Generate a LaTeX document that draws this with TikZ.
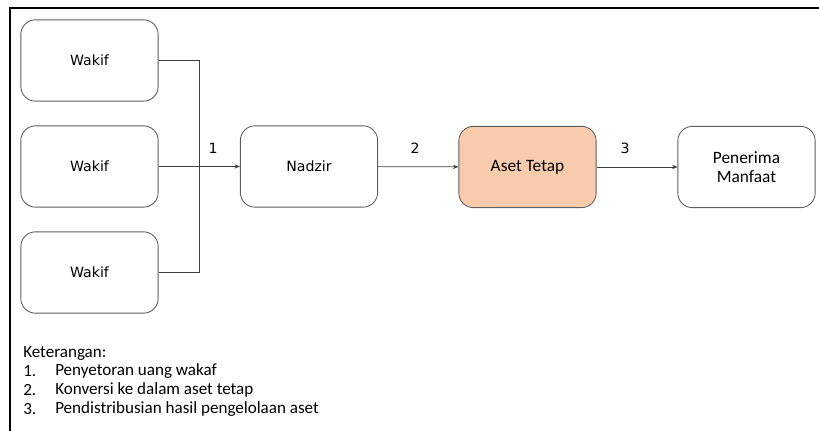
\documentclass[tikz,border=0pt]{standalone}
\usepackage{fontspec}
\setmainfont{Carlito}
\newfontfamily\boxfont{DejaVu Sans}
\usetikzlibrary{arrows.meta}
\definecolor{peach}{HTML}{F8CBAD}
\definecolor{rim}{HTML}{5E5E5E}
\definecolor{wire}{HTML}{404040}
\begin{document}
\begin{tikzpicture}[x=0.75pt,y=-0.75pt,>={Stealth[length=4pt,width=3.2pt]},font=\fontsize{13}{15}\selectfont]
			\tikzset{blok/.style={draw=rim,line width=0.65pt,rounded corners=11pt,minimum width=103pt,minimum height=61pt,align=center,fill=white},
				wkf/.style={blok,font=\boxfont\fontsize{10.6}{12}\selectfont},
				lijn/.style={draw=wire,line width=0.5pt},
				nomor/.style={font=\boxfont\fontsize{10.6}{12}\selectfont},
				teks/.style={anchor=west,inner sep=0pt,font=\fontsize{12.8}{14}\selectfont}}
			\useasboundingbox (0,0) rectangle (819,431);
			\draw[line width=1.8pt] (10,431)--(10,8)--(819,8);
			% kotak wakif
			\foreach \k/\y in {1/60.5,2/166.5,3/272.5}{
				\node[wkf] (w\k) at (89.5,\y) {Wakif};}
			\node[wkf] (nadzir) at (309,166.5) {Nadzir};
			\node[blok,fill=peach] (aset) at (527.5,167) {Aset Tetap};
			\node[blok] (terima) at (746.5,167) {Penerima\\[-1pt]Manfaat};
			\coordinate (j) at (199,166.5);
			\draw[lijn] (w1.east) -| (j);
			\draw[lijn] (w3.east) -| (j);
			\draw[lijn,->] (w2) -- (nadzir);
			\draw[lijn,->] (nadzir) -- (aset);
			\draw[lijn,->] (aset) -- (terima);
			\node[nomor] (n1) at (213,148) {1};
			\node[nomor] (n2) at (415,148) {2};
			\node[nomor] (n3) at (625,148) {3};
			% keterangan
			\node[teks] (ket) at (23,353) {Keterangan:};
			\foreach \t [count=\k] in {Penyetoran uang wakaf,Konversi ke dalam aset tetap,Pendistribusian hasil pengelolaan aset}{
				\node[teks] (no\k) at (23,352+19*\k) {\k.};
				\node[teks] (item\k) at (55,352+19*\k) {\t};}
		\end{tikzpicture}
\end{document}
